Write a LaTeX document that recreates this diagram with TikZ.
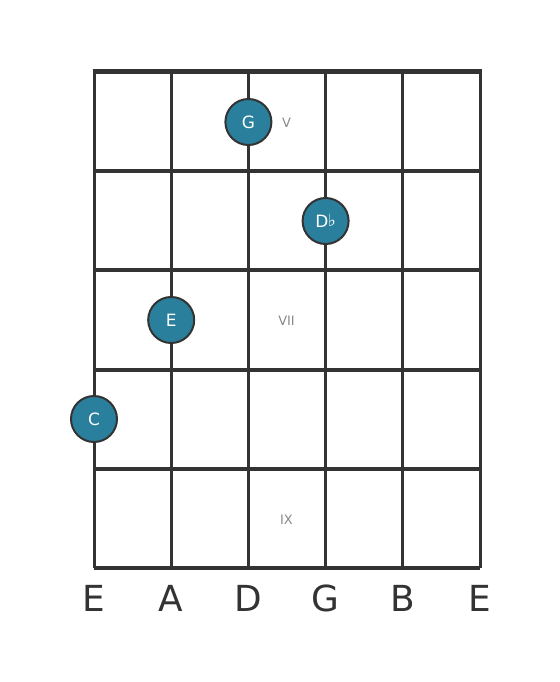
\documentclass[tikz,border=0pt]{standalone}
\usepackage{fontspec}
\setmainfont{DejaVu Sans}
\definecolor{gridc}{HTML}{333333}
\definecolor{dotc}{HTML}{2A7F9C}
\definecolor{romc}{HTML}{888888}
\begin{document}
\begin{tikzpicture}[x=1bp,y=-1bp,
  fret/.style={draw=gridc,line width=4bp},
  nut/.style={draw=gridc,line width=5bp},
  str/.style={draw=gridc,line width=3bp},
  note/.style={circle,fill=dotc,draw=gridc,line width=2bp,minimum size=46bp,inner sep=0pt,text=white,font=\fontsize{17}{17}\selectfont},
  roman/.style={text=romc,font=\fontsize{13}{13}\selectfont},
  sname/.style={text=gridc,font=\fontsize{36}{36}\selectfont,anchor=base}]
\useasboundingbox (0,0) rectangle (560,682);
% strings
\foreach \i/\x in {1/94,2/171.2,3/248.4,4/325.6,5/402.8,6/480} {
  \coordinate (st\i) at (\x,72);
  \coordinate (sb\i) at (\x,568);
  \draw[str] (st\i) -- (sb\i);
}
% frets
\foreach \j/\y in {1/171.2,2/270.4,3/369.6,4/468.8,5/568} {
  \coordinate (fl\j) at (94,\y);
  \coordinate (fr\j) at (480,\y);
  \draw[fret] (fl\j) -- (fr\j);
}
\coordinate (nl) at (94,72);
\coordinate (nr) at (480,72);
\draw[nut] ([xshift=-1.5bp]nl) -- ([xshift=1.5bp]nr);
% roman numerals
\node[roman] (r5) at (286.5,123) {V};
\node[roman] (r7) at (286.5,321) {VII};
\node[roman] (r9) at (286.5,520) {IX};
% notes
\node[note] (nG) at (248.4,122) {G};
\node[note] (nDb) at (325.6,221) {D\kern-0.5bp\raisebox{0.05ex}{\fontsize{17}{17}\selectfont\symbol{"266D}}};
\node[note] (nE) at (171.2,320) {E};
\node[note] (nC) at (94,419) {C};
% string names
\node[sname] (l1) at (94,611) {E};
\node[sname] (l2) at (171.2,611) {A};
\node[sname] (l3) at (248.4,611) {D};
\node[sname] (l4) at (325.6,611) {G};
\node[sname] (l5) at (402.8,611) {B};
\node[sname] (l6) at (480,611) {E};
\end{tikzpicture}
\end{document}
